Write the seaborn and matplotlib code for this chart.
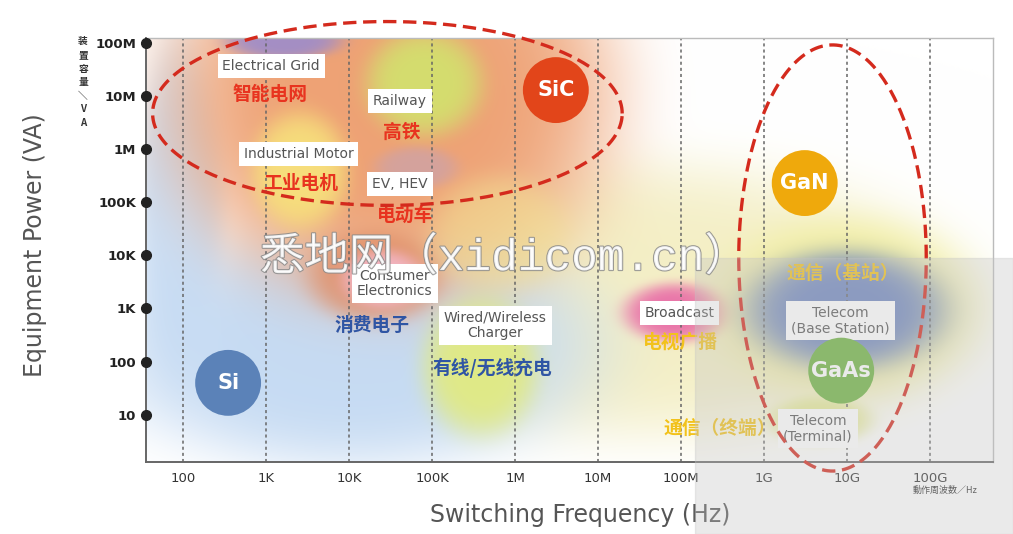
import numpy as np
import pandas as pd
import matplotlib
matplotlib.use('Agg')
import matplotlib.pyplot as plt
import matplotlib.patheffects as pe
from matplotlib.colors import to_rgb
from matplotlib.patches import Rectangle
import seaborn as sns

sns.set_style('white')
plt.rcParams['font.family'] = ['DejaVu Sans', 'Noto Sans CJK SC']

# axis range in decades (log10 of Hz / VA)
x_range = [1.55, 11.76]
y_range = [0.11, 8.09]

x_ticks = [2, 3, 4, 5, 6, 7, 8, 9, 10, 11]
x_tick_labels = ['100', '1K', '10K', '100K', '1M', '10M', '100M', '1G', '10G', '100G']
y_ticks = [1, 2, 3, 4, 5, 6, 7, 8]
y_tick_labels = ['10', '100', '1K', '10K', '100K', '1M', '10M', '100M']

# soft application regions: centre / half size in decades, colour, opacity
blob_x = [7.63, 4.00, 1.95, 4.50, 4.30, 5.80, 3.20, 4.90, 3.40, 4.80, 4.40, 5.58, 7.93, 10.0, 9.98, 9.67]
blob_y = [3.15, 2.30, 5.00, 7.00, 3.60, 4.40, 8.05, 7.25, 5.60, 5.65, 3.55, 1.90, 2.92, 3.00, 2.96, 0.89]
blob_wx = [3.6, 3.0, 0.55, 2.7, 0.80, 0.85, 0.70, 0.70, 0.58, 0.50, 0.50, 0.70, 0.62, 1.55, 1.20, 0.62]
blob_wy = [2.6, 2.3, 3.00, 3.8, 0.85, 1.10, 0.35, 1.00, 1.10, 0.40, 0.55, 1.30, 0.55, 1.70, 1.10, 0.45]
blob_colors = ['#f4efc6', '#c6dbf3', '#c6dbf3', '#eea275', '#e08c64', '#f2e392', '#9c8ccc', '#d3e06e',
               '#f7e27c', '#c4a2b6', '#f3b6c6', '#e1ea82', '#e96fa8', '#f1ee9c', '#6f86bf', '#e3e88e']
blob_alpha = [1.0, 1.0, 0.9, 1.0, 0.8, 0.55, 0.9, 0.95, 0.92, 0.6, 0.95, 0.95, 0.95, 0.9, 1.0, 0.9]

materials = ['Si', 'SiC', 'GaN', 'GaAs']
mat_x = [2.54, 6.49, 9.49, 9.93]
mat_y = [1.60, 7.11, 5.36, 1.83]
mat_colors = ['#5b82b8', '#e2451a', '#efa90c', '#6db33f']

app_en = ['Electrical Grid', 'Railway', 'Industrial Motor', 'EV, HEV', 'Consumer\nElectronics',
          'Wired/Wireless\nCharger', 'Broadcast', 'Telecom\n(Base Station)', 'Telecom\n(Terminal)']
app_en_x = [3.06, 4.61, 3.39, 4.61, 4.55, 5.76, 7.98, 9.92, 9.65]
app_en_y = [7.57, 6.91, 5.91, 5.34, 3.47, 2.68, 2.92, 2.77, 0.74]

app_cn = ['智能电网', '高铁', '工业电机', '电动车', '消费电子', '有线/无线充电',
          '电视广播', '通信（基站）', '通信（终端）']
app_cn_x = [3.05, 4.63, 3.41, 4.67, 4.27, 5.72, 7.99, 9.95, 8.47]
app_cn_y = [7.02, 6.32, 5.36, 4.75, 2.68, 1.89, 2.36, 3.66, 0.75]
app_cn_colors = ['#e8331f', '#e8331f', '#e8331f', '#e8331f', '#2f55a4', '#2f55a4',
                 '#f2c21b', '#f2c21b', '#f2c21b']

# dashed groupings (SiC / GaN), ellipses in decade space
ring_cx = [4.46, 9.825]
ring_cy = [6.67, 3.95]
ring_a = [2.83, 1.13]
ring_b = [1.73, 4.01]

fig = plt.figure(figsize=(10.13, 5.34), dpi=100)
pos = [0.1441, 0.1348, 0.8362, 0.794]

# background colour field
bg = fig.add_axes(pos)
gx = np.linspace(x_range[0], x_range[1], 700)
gy = np.linspace(y_range[0], y_range[1], 500)
GX, GY = np.meshgrid(gx, gy)
img = np.ones(GX.shape + (3,))
for cx, cy, wx, wy, c, a in zip(blob_x, blob_y, blob_wx, blob_wy, blob_colors, blob_alpha):
    d = ((GX - cx) / wx) ** 2 + ((GY - cy) / wy) ** 2
    w = (a * np.exp(-d ** 2.6))[..., None]
    img = img * (1 - w) + np.array(to_rgb(c)) * w
bg.imshow(img, extent=[x_range[0], x_range[1], y_range[0], y_range[1]],
          origin='lower', aspect='auto', interpolation='bilinear')
bg.axis('off')

ax = fig.add_axes(pos)
ax.set_facecolor('none')
ax.set_xscale('log')
ax.set_yscale('log')
ax.set_xlim(10 ** x_range[0], 10 ** x_range[1])
ax.set_ylim(10 ** y_range[0], 10 ** y_range[1])
ax.set_xticks(10.0 ** np.array(x_ticks))
ax.set_xticklabels(x_tick_labels, fontsize=9.5, color='#333')
ax.set_yticks(10.0 ** np.array(y_ticks))
ax.set_yticklabels(y_tick_labels, fontsize=9.5, fontweight='bold', color='#222')
ax.minorticks_off()
ax.tick_params(axis='x', length=0, pad=7)
ax.tick_params(axis='y', length=0, pad=7)
ax.xaxis.grid(True, ls=(0, (2, 2)), color='#666', lw=1.1)
ax.yaxis.grid(False)
for s in ['left', 'bottom']:
    ax.spines[s].set_color('#666')
    ax.spines[s].set_linewidth(1.4)
for s in ['top', 'right']:
    ax.spines[s].set_color('#bbb')
    ax.spines[s].set_linewidth(1.0)

ax.plot([10 ** x_range[0]] * len(y_ticks), 10.0 ** np.array(y_ticks), 'o',
        color='#222', ms=7, clip_on=False, zorder=6)

mat_df = pd.DataFrame({'material': materials, 'x': 10.0 ** np.array(mat_x),
                       'y': 10.0 ** np.array(mat_y)})
sns.scatterplot(data=mat_df, x='x', y='y', hue='material', palette=mat_colors,
                s=2250, edgecolor='none', legend=False, ax=ax, zorder=4)
for m, x, y in zip(materials, mat_x, mat_y):
    ax.text(10 ** x, 10 ** y, m, ha='center', va='center', color='white',
            fontsize=15, fontweight='bold', zorder=5)
ax.set_xlabel('')
ax.set_ylabel('')

for t, x, y in zip(app_en, app_en_x, app_en_y):
    ax.text(10 ** x, 10 ** y, t, ha='center', va='center', fontsize=10, color='#555',
            linespacing=1.1, zorder=3,
            bbox=dict(boxstyle='square,pad=0.35', fc='white', ec='none'))
for t, x, y, c in zip(app_cn, app_cn_x, app_cn_y, app_cn_colors):
    ax.text(10 ** x, 10 ** y, t, ha='center', va='center', fontsize=13.5,
            fontweight='bold', color=c, family=['Noto Sans CJK SC'], zorder=3)

t = np.linspace(0, 2 * np.pi, 400)
for cx, cy, a, b in zip(ring_cx, ring_cy, ring_a, ring_b):
    ax.plot(10 ** (cx + a * np.cos(t)), 10 ** (cy + b * np.sin(t)), color='#d42a1d',
            lw=2.4, dashes=(4, 2), clip_on=False, zorder=7)

fig.text(0.0345, 0.541, 'Equipment Power (VA)', rotation=90, ha='center', va='center',
         fontsize=17, color='#555')
fig.text(0.5726, 0.0356, 'Switching Frequency (Hz)', ha='center', va='center',
         fontsize=17, color='#555')
fig.text(0.082, 0.932, '装\n置\n容\n量\n＼\nV\nA', ha='center', va='top', fontsize=7,
         fontweight='bold', color='#333', linespacing=1.45, family=['Noto Sans CJK SC'])
fig.text(0.933, 0.082, '動作周波数／Hz', ha='center', va='center', fontsize=6.5,
         color='#333', family=['Noto Sans CJK JP'])

# watermark
fig.text(0.4985, 0.517, '悉地网（xidicom.cn）', ha='center', va='center', fontsize=32,
         color='white', alpha=0.85, family=['Liberation Mono', 'Noto Sans CJK SC'], zorder=9,
         path_effects=[pe.withStroke(linewidth=1.5, foreground='#8a8a8a')])
fig.patches.append(Rectangle((0.686, 0), 0.314, 0.517, transform=fig.transFigure,
                             color='#c4c4c4', alpha=0.35, zorder=8))

plt.savefig('out.png', dpi=100)
plt.close()
